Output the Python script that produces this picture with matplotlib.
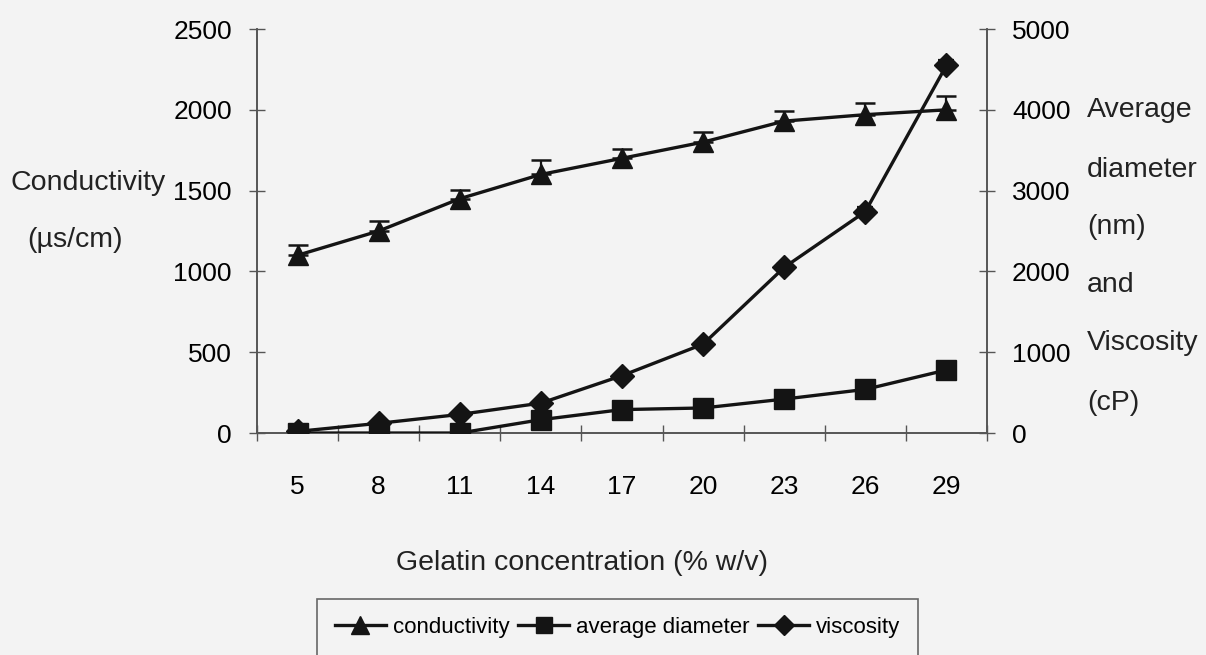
import numpy as np
import matplotlib.pyplot as plt
from matplotlib.lines import Line2D

# Gelatin concentration (% w/v)
conc = ["5", "8", "11", "14", "17", "20", "23", "26", "29"]

# Conductivity (us/cm), left axis, with upper error bars
conductivity = [1100, 1250, 1450, 1600, 1700, 1800, 1930, 1970, 2000]
cond_err = [65, 60, 55, 90, 60, 60, 65, 75, 85]

# Average diameter (nm), right axis
diameter = [0, 0, 0, 165, 290, 310, 420, 540, 780]

# Viscosity (cP), right axis
viscosity = [20, 120, 230, 370, 710, 1100, 2050, 2740, 4550]
visc_err = [0, 0, 0, 0, 0, 0, 40, 60, 70]

bg = "#f3f3f3"
ink = "#141414"
tick_font = ["Liberation Sans Narrow", "Liberation Sans", "DejaVu Sans"]
text_font = ["Liberation Sans", "DejaVu Sans"]

fig = plt.figure(figsize=(12.06, 6.55), dpi=100, facecolor=bg)
ax = fig.add_axes([0.2131, 0.3389, 0.6053, 0.6168])
ax.set_facecolor(bg)
ax2 = ax.twinx()

x = np.arange(len(conc))
lw = 2.4

ax.errorbar(x, conductivity, yerr=[np.zeros(len(x)), cond_err], color=ink,
            lw=lw, marker="^", ms=15, capsize=7, elinewidth=1.6, capthick=1.8,
            zorder=3)
ax2.plot(x, diameter, color=ink, lw=lw, marker="s", ms=14, zorder=3)
ax2.errorbar(x, viscosity, yerr=[np.zeros(len(x)), visc_err], color=ink,
             lw=lw, marker="D", ms=12, capsize=6, elinewidth=1.4, capthick=1.6,
             zorder=3)

ax.set_xlim(-0.5, len(conc) - 0.5)
ax.set_ylim(0, 2500)
ax2.set_ylim(0, 5000)

ax.set_xticks(x)
ax.set_xticklabels(conc, fontsize=19, family=tick_font)
ax.set_xticks(np.arange(-0.5, len(conc)), minor=True)
ax.tick_params(axis="x", which="major", length=0, pad=30)
ax.tick_params(axis="x", which="minor", length=12, direction="inout", width=1, color="#555555")

ax.set_yticks(np.arange(0, 2501, 500))
ax.set_yticklabels([str(v) for v in range(0, 2501, 500)], fontsize=19, family=tick_font)
ax.tick_params(axis="y", length=12, direction="inout", width=1, color="#555555", pad=12)

ax2.set_yticks(np.arange(0, 5001, 1000))
ax2.set_yticklabels([str(v) for v in range(0, 5001, 1000)], fontsize=19, family=tick_font)
ax2.tick_params(axis="y", length=12, direction="inout", width=1, color="#555555", pad=12)

for a in (ax, ax2):
    a.spines["top"].set_visible(False)
    for s in ("left", "right", "bottom"):
        a.spines[s].set_color("#555555")
        a.spines[s].set_linewidth(1.2)

# Axis titles as free text like the original
fig.text(10 / 1206, 1 - 183 / 655, "Conductivity", fontsize=20.5, family=text_font,
         color="#222222", ha="left", va="center")
fig.text(27 / 1206, 1 - 240 / 655, "(\u00b5s/cm)", fontsize=20.5, family=text_font,
         color="#222222", ha="left", va="center")
right_lines = ["Average", "diameter", "(nm)", "and", "Viscosity", "(cP)"]
right_y = [110, 170, 227, 285, 343, 403]
for t, yy in zip(right_lines, right_y):
    fig.text(1087 / 1206, 1 - yy / 655, t, fontsize=20.5, family=text_font,
             color="#222222", ha="left", va="center")

fig.text(582 / 1206, 1 - 563 / 655, "Gelatin concentration (% w/v)", fontsize=20.5,
         family=text_font, color="#222222", ha="center", va="center")

handles = [
    Line2D([], [], color=ink, lw=lw, marker="^", ms=13),
    Line2D([], [], color=ink, lw=lw, marker="s", ms=12),
    Line2D([], [], color=ink, lw=lw, marker="D", ms=10),
]
labels = ["conductivity", "average diameter", "viscosity"]
leg = fig.legend(handles, labels, loc="upper center", bbox_to_anchor=(0.512, 0.102),
                 ncol=3, frameon=True, fancybox=False, edgecolor="#444444",
                 facecolor=bg, prop={"family": text_font, "size": 16},
                 handlelength=2.3, handletextpad=0.3, columnspacing=0.4,
                 borderpad=0.8)
leg.get_frame().set_linewidth(1.2)

fig.savefig("out.png", dpi=100, facecolor=bg)
